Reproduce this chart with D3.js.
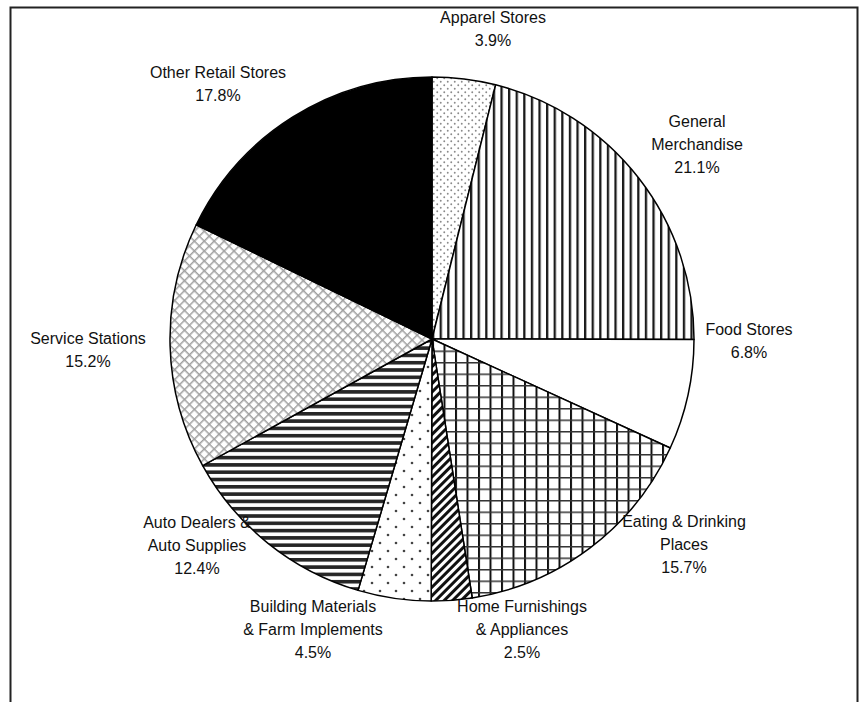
<!DOCTYPE html>
<html><head><meta charset="utf-8">
<script src="https://cdn.jsdelivr.net/npm/d3@7"></script>
<style>html,body{margin:0;padding:0;background:#fff;}svg{display:block;}</style>
</head><body>
<svg id="chart" width="868" height="702"></svg>
<script>
// ---- data ----
const categories = ["Apparel Stores","General Merchandise","Food Stores","Eating & Drinking Places","Home Furnishings & Appliances","Building Materials & Farm Implements","Auto Dealers & Auto Supplies","Service Stations","Other Retail Stores"];
const values = [3.9, 21.1, 6.8, 15.7, 2.5, 4.5, 12.4, 15.2, 17.8];
const labelLines = [["Apparel Stores"],["General","Merchandise"],["Food Stores"],["Eating & Drinking","Places"],["Home Furnishings","& Appliances"],["Building Materials","& Farm Implements"],["Auto Dealers &","Auto Supplies"],["Service Stations"],["Other Retail Stores"]];

// ---- layout (not data) ----
const cx = 432, cy = 339, R = 262;
const labelPos = [[493,17],[697,121],[749,329],[684,521],[522,606],[313,606],[197,522],[88,338],[218,72]];
const fills = ["url(#pApparel)","url(#pGen)","#fff","url(#pEat)","url(#pHome)","url(#pBuild)","url(#pAuto)","url(#pServ)","#000"];

const svg = d3.select("#chart");
const defs = svg.append("defs");

function pat(id, w, h, transform){
  const p = defs.append("pattern").attr("id",id).attr("patternUnits","userSpaceOnUse").attr("width",w).attr("height",h);
  if (transform) p.attr("patternTransform", transform);
  p.append("rect").attr("width",w).attr("height",h).attr("fill","#fff");
  return p;
}
// Apparel: fine gray dots
let p = pat("pApparel", 7, 7);
p.append("circle").attr("cx",1.75).attr("cy",1.75).attr("r",0.95).attr("fill","#8a8a8a");
p.append("circle").attr("cx",5.25).attr("cy",5.25).attr("r",0.95).attr("fill","#8a8a8a");
// General merchandise: vertical stripes
p = pat("pGen", 7.6, 8);
p.append("rect").attr("x",0).attr("width",2.3).attr("height",8).attr("fill","#1a1a1a");
// Eating & drinking: grid
p = pat("pEat", 11.5, 11.5);
p.append("rect").attr("x",0).attr("y",0).attr("width",2).attr("height",11.5).attr("fill","#111");
p.append("rect").attr("x",0).attr("y",0).attr("width",11.5).attr("height",1.5).attr("fill","#333");
// Home furnishings: thick diagonal stripes
p = pat("pHome", 6, 6, "rotate(45)");
p.append("rect").attr("x",0).attr("width",3).attr("height",6).attr("fill","#111");
// Building materials: sparse dots
p = pat("pBuild", 16, 16);
p.append("circle").attr("cx",4).attr("cy",4).attr("r",1.3).attr("fill","#444");
p.append("circle").attr("cx",12).attr("cy",12).attr("r",1.3).attr("fill","#444");
// Auto dealers: horizontal stripes
p = pat("pAuto", 7.3, 7.3);
p.append("rect").attr("y",0).attr("width",7.3).attr("height",3.6).attr("fill","#262626");
// Service stations: diagonal crosshatch
p = pat("pServ", 7, 7, "rotate(45)");
p.append("rect").attr("x",0).attr("width",1.5).attr("height",7).attr("fill","#a0a0a0");
p.append("rect").attr("y",0).attr("width",7).attr("height",1.5).attr("fill","#a0a0a0");

// frame (left, top, right)
svg.append("path").attr("d","M10.5,702 V7.5 H857.5 V702").attr("fill","none").attr("stroke","#222").attr("stroke-width",2);

const pie = d3.pie().sort(null).value(d => d)(values);
const arc = d3.arc().innerRadius(0).outerRadius(R);
const g = svg.append("g").attr("transform",`translate(${cx},${cy})`);
g.selectAll("path.slice").data(pie).join("path").attr("class","slice")
  .attr("d",arc).attr("fill",(d,i)=>fills[i])
  .attr("stroke","#000").attr("stroke-width",1.5).attr("stroke-linejoin","round");

const fmt = d3.format(".1f");
const lab = svg.append("g").attr("font-family","Liberation Sans, Arial, sans-serif").attr("font-size",16).attr("fill","#111").attr("text-anchor","middle");
categories.forEach((c,i)=>{
  const lines = labelLines[i].concat([fmt(values[i])+"%"]);
  const [x,y] = labelPos[i];
  lines.forEach((t,j)=>{
    lab.append("text").attr("x",x).attr("y",y+j*23).attr("dy","0.35em").text(t);
  });
});
</script>
</body></html>
